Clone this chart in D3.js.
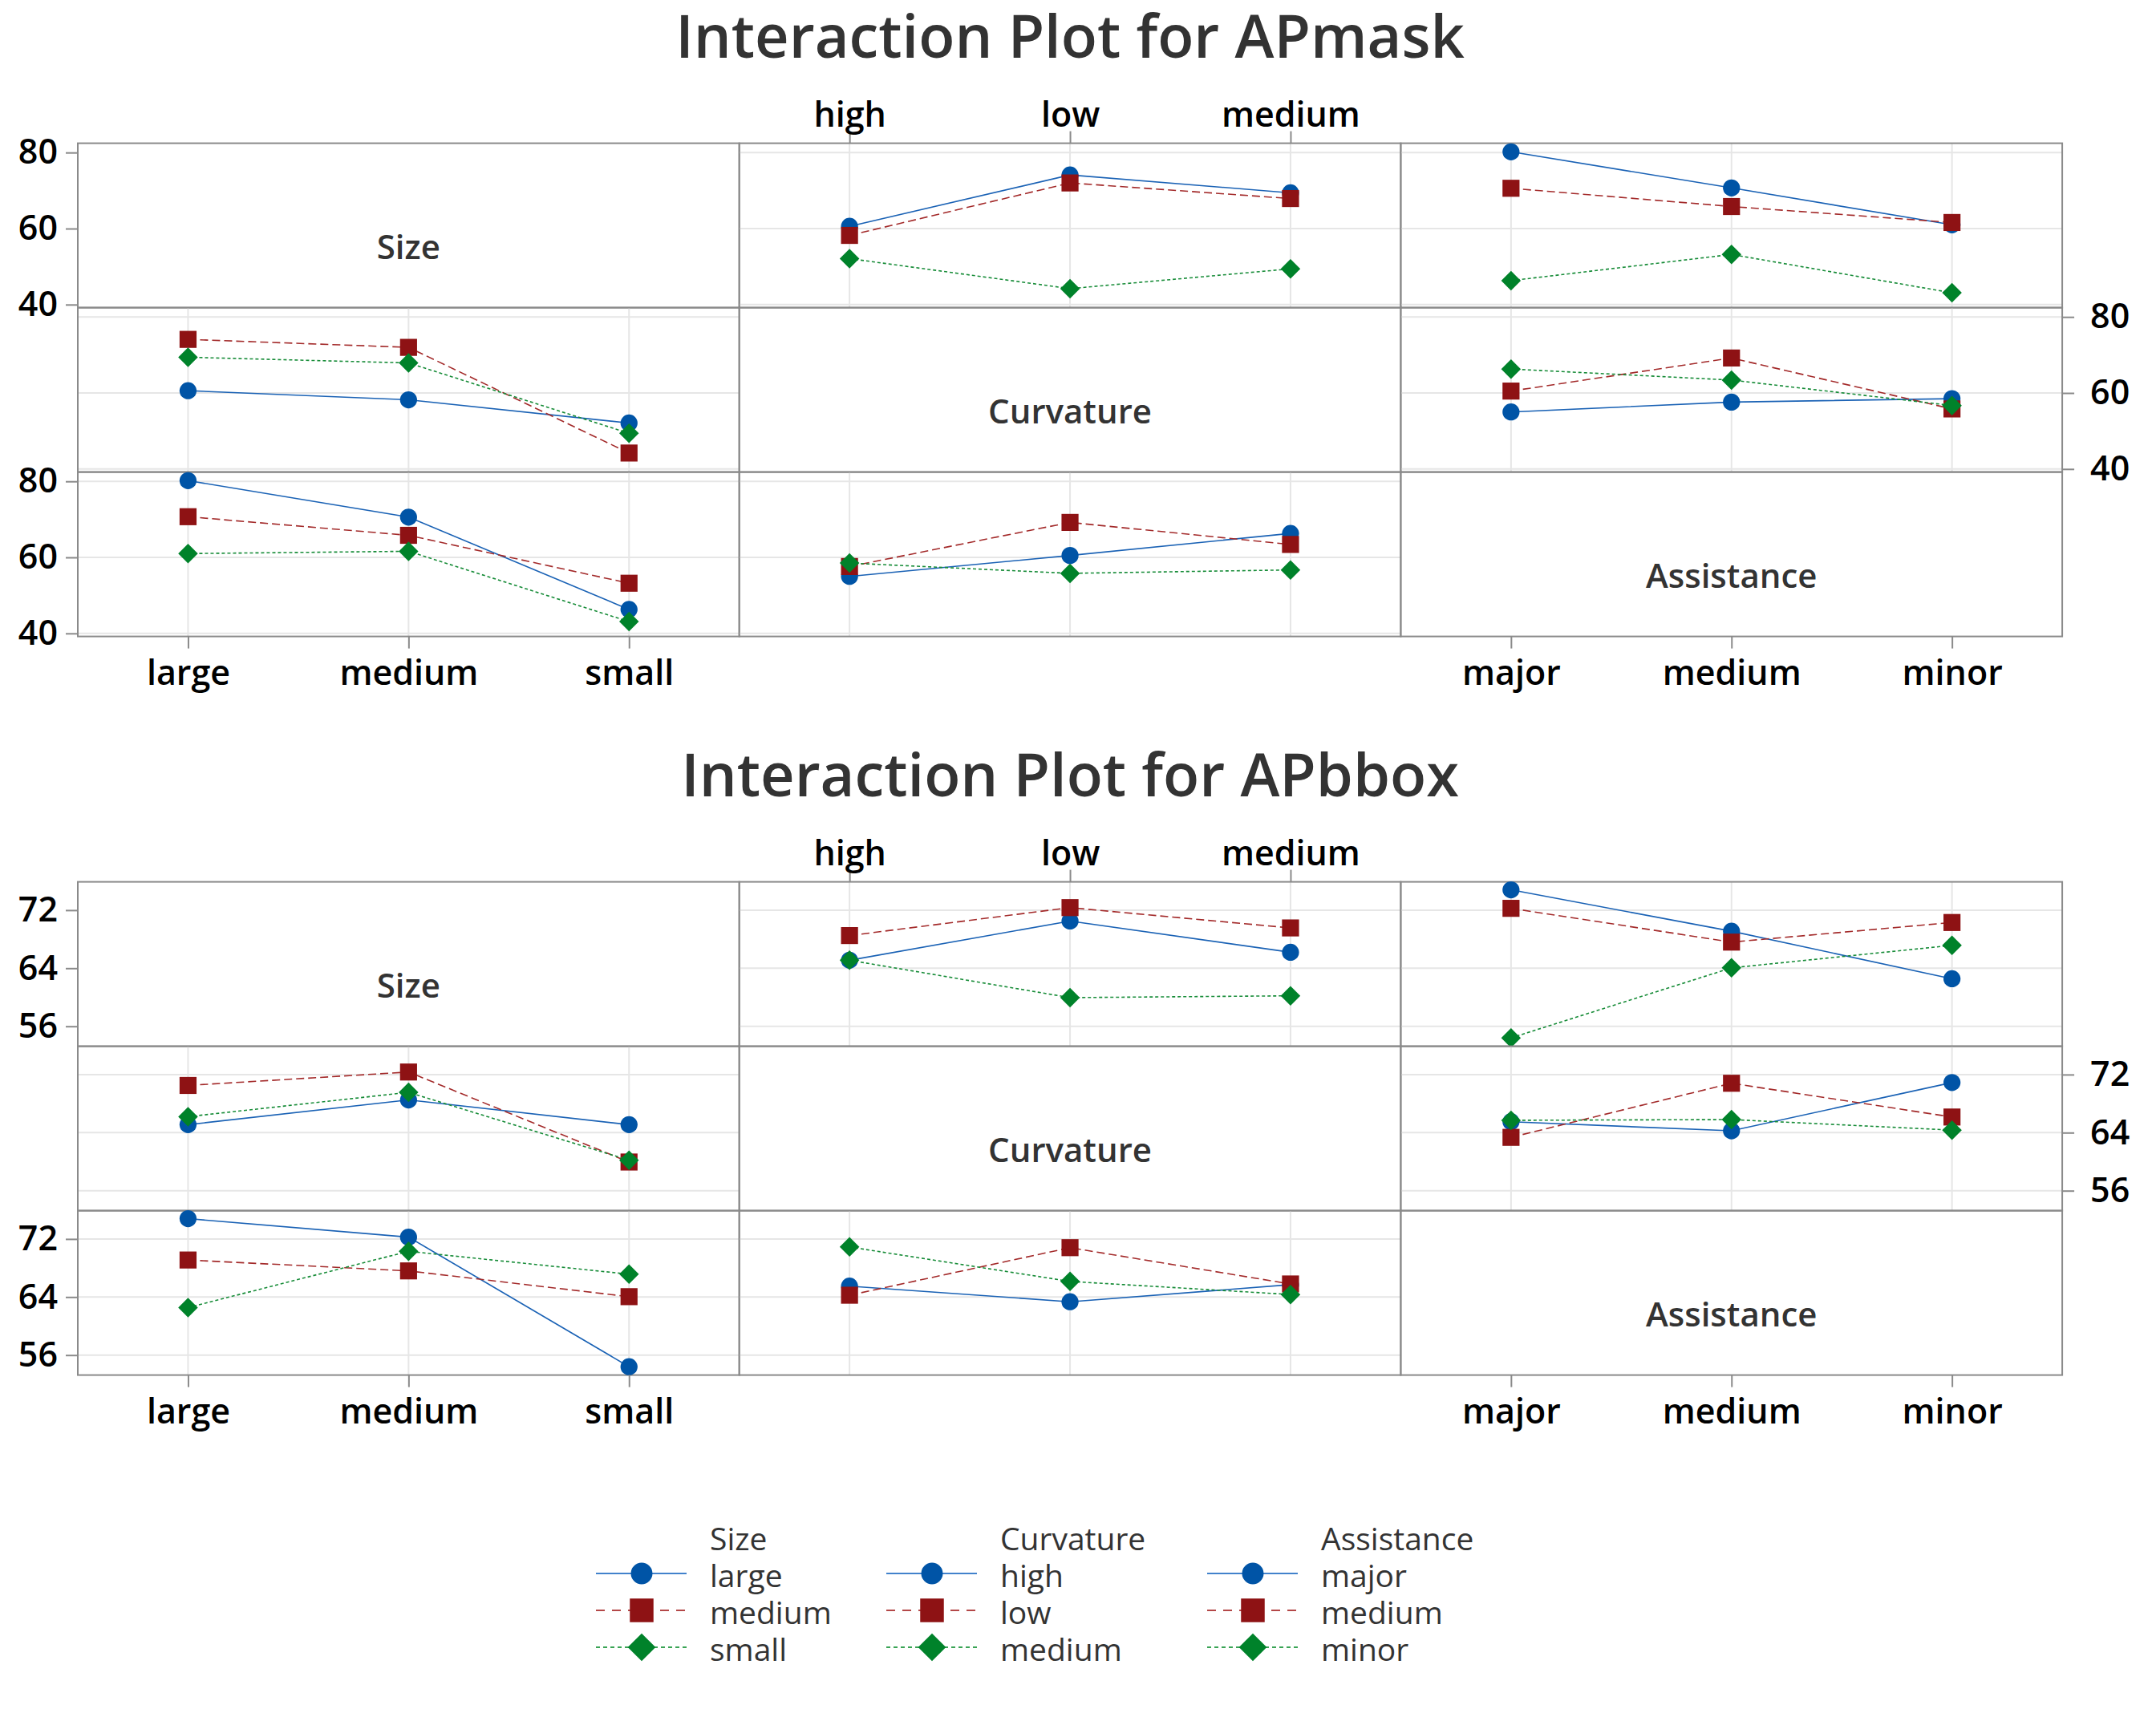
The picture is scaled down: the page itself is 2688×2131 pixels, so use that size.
<!DOCTYPE html>
<html>
<head>
<meta charset="utf-8">
<script src="https://cdnjs.cloudflare.com/ajax/libs/d3/7.8.5/d3.min.js"></script>
<style>
  body { margin: 0; background: #fff; }
  svg { display: block; }
  text { font-family: "Open Sans", "Noto Sans", sans-serif; }
</style>
</head>
<body>
<svg id="chart" width="2688" height="2131"></svg>
<script>
(function () {
  "use strict";

  const factors = ["Size", "Curvature", "Assistance"];
  const sizeLevels = ["large", "medium", "small"];
  const curvLevels = ["high", "low", "medium"];
  const assistLevels = ["major", "medium", "minor"];

  // two-way means, rows = first factor levels, cols = second factor levels
  const maskSizeCurv = [
    [60.6, 74.1, 69.4],
    [58.2, 72.0, 67.9],
    [52.1, 44.2, 49.4]
  ];
  const maskSizeAssist = [
    [80.2, 70.7, 61.0],
    [70.6, 65.8, 61.6],
    [46.3, 53.2, 43.1]
  ];
  const maskCurvAssist = [
    [55.0, 57.6, 58.5],
    [60.5, 69.2, 55.8],
    [66.3, 63.4, 56.7]
  ];

  const bboxSizeCurv = [
    [65.1, 70.5, 66.2],
    [68.5, 72.35, 69.55],
    [65.1, 59.95, 60.2]
  ];
  const bboxSizeAssist = [
    [74.8, 69.1, 62.55],
    [72.25, 67.6, 70.3],
    [54.4, 64.05, 67.15]
  ];
  const bboxCurvAssist = [
    [65.5, 64.25, 70.9],
    [63.35, 70.8, 66.15],
    [65.7, 65.8, 64.35]
  ];

  const maskTicks = [40, 60, 80];
  const maskDomain = [39.2, 82.45];
  const bboxTicks = [56, 64, 72];
  const bboxDomain = [53.25, 75.9];

  const levels = [sizeLevels, curvLevels, assistLevels];

  let diamond = {
    draw(ctx, size) {
      let r = Math.sqrt(size / 2)
      ctx.moveTo(0, -r)
      ctx.lineTo(r, 0)
      ctx.lineTo(0, r)
      ctx.lineTo(-r, 0)
      ctx.closePath()
    }
  }

  const styles = [
    { fill: "#0054a6", line: "#1a62b5", legLine: "#4282cc", dash: null, legDash: null, sym: d3.symbolCircle, size: 355, legSize: 570 },
    { fill: "#8e1214", line: "#a32a2a", legLine: "#b44848", dash: "10,5", legDash: "11,9", sym: d3.symbolSquare, size: 450, legSize: 870 },
    { fill: "#00822a", line: "#178c38", legLine: "#3aa455", dash: "4,3", legDash: "5,4", sym: diamond, size: 300, legSize: 600 }
  ];

  let svg = d3.select("#chart")
  svg.append("rect").attr("width", 2688).attr("height", 2131).attr("fill", "#fff")

  const left = 97
  const colW = 824.7
  const rowH = 205

  function cellValue(tables, r, c, t, x) {
    if (r < c) return tables[r + "" + c][t][x]
    return tables[c + "" + r][x][t]
  }

  function styleAxis(g, anchor) {
    g.select(".domain").remove()
    g.selectAll(".tick line").attr("stroke", "#8a8a8a").attr("stroke-width", 2)
    g.selectAll(".tick text")
      .attr("fill", "#000")
      .style("font-size", "43px")
      .style("font-weight", 600)
    if (anchor) g.selectAll(".tick text").attr("text-anchor", anchor)
  }

  function drawMatrix(top, title, tables, domain, ticks) {
    let g = svg.append("g")

    g.append("text")
      .attr("x", left + colW * 1.5)
      .attr("y", top - 107)
      .attr("text-anchor", "middle")
      .attr("fill", "#333")
      .style("font-size", "74px")
      .style("font-weight", 600)
      .text(title)

    for (let r = 0; r < 3; r++) {
      for (let c = 0; c < 3; c++) {
        let x0 = left + c * colW
        let y0 = top + r * rowH
        let x = d3.scalePoint().domain(levels[c]).range([x0, x0 + colW]).padding(0.5)
        let y = d3.scaleLinear().domain(domain).range([y0 + rowH, y0])
        let cell = g.append("g")

        if (r === c) {
          cell.append("rect")
            .attr("x", x0).attr("y", y0).attr("width", colW).attr("height", rowH)
            .attr("fill", "none").attr("stroke", "#8a8a8a").attr("stroke-width", 2)
          cell.append("text")
            .attr("x", x0 + colW / 2)
            .attr("y", y0 + rowH / 2 + 42)
            .attr("text-anchor", "middle")
            .attr("fill", "#333")
            .style("font-size", "42px")
            .style("font-weight", 600)
            .text(factors[r])
        } else {
          // grid
          cell.selectAll(".vg").data(levels[c]).join("line")
            .attr("x1", d => x(d)).attr("x2", d => x(d))
            .attr("y1", y0).attr("y2", y0 + rowH)
            .attr("stroke", "#e6e6e6").attr("stroke-width", 2)
          cell.selectAll(".hg").data(ticks).join("line")
            .attr("x1", x0).attr("x2", x0 + colW)
            .attr("y1", d => y(d)).attr("y2", d => y(d))
            .attr("stroke", "#e6e6e6").attr("stroke-width", 2)
          cell.append("rect")
            .attr("x", x0).attr("y", y0).attr("width", colW).attr("height", rowH)
            .attr("fill", "none").attr("stroke", "#8a8a8a").attr("stroke-width", 2)

          let line = d3.line().x(d => x(d.x)).y(d => y(d.v))
          levels[r].forEach(function (lev, t) {
            let st = styles[t]
            let pts = levels[c].map((xl, xi) => ({ x: xl, v: cellValue(tables, r, c, t, xi) }))
            cell.append("path")
              .attr("d", line(pts))
              .attr("fill", "none")
              .attr("stroke", st.line)
              .attr("stroke-width", 1.6)
              .attr("stroke-dasharray", st.dash)
            cell.selectAll(".m" + t).data(pts).join("path")
              .attr("transform", d => "translate(" + x(d.x) + "," + y(d.v) + ")")
              .attr("d", d3.symbol(st.sym, st.size))
              .attr("fill", st.fill)
          })
        }

        // axes
        if (c === 0 && r !== 1) {
          g.append("g").attr("transform", "translate(" + x0 + ",0)")
            .call(d3.axisLeft(y).tickValues(ticks).tickSize(15).tickPadding(10))
            .call(s => styleAxis(s))
        }
        if (c === 2 && r === 1) {
          g.append("g").attr("transform", "translate(" + (x0 + colW) + ",0)")
            .call(d3.axisRight(y).tickValues(ticks).tickSize(15).tickPadding(20))
            .call(s => styleAxis(s))
        }
        if (r === 0 && c === 1) {
          g.append("g").attr("transform", "translate(0," + y0 + ")")
            .call(d3.axisTop(x).tickSize(15).tickPadding(6))
            .call(s => styleAxis(s))
        }
        if (r === 2 && c !== 1) {
          g.append("g").attr("transform", "translate(0," + (y0 + rowH) + ")")
            .call(d3.axisBottom(x).tickSize(15).tickPadding(15))
            .call(s => styleAxis(s))
        }
      }
    }
  }

  drawMatrix(178.6, "Interaction Plot for APmask",
    { "01": maskSizeCurv, "02": maskSizeAssist, "12": maskCurvAssist }, maskDomain, maskTicks)
  drawMatrix(1099.6, "Interaction Plot for APbbox",
    { "01": bboxSizeCurv, "02": bboxSizeAssist, "12": bboxCurvAssist }, bboxDomain, bboxTicks)

  // legend
  const legTextX = [885, 1247, 1647]
  const legTop = 1933
  const legStep = 46
  let leg = svg.append("g")
  factors.forEach(function (f, i) {
    let tx = legTextX[i]
    leg.append("text")
      .attr("x", tx).attr("y", legTop)
      .attr("fill", "#333")
      .style("font-size", "39px")
      .text(f)
    levels[i].forEach(function (lev, t) {
      let st = styles[t]
      let base = legTop + legStep * (t + 1)
      let cy = base - 17
      leg.append("line")
        .attr("x1", tx - 142).attr("x2", tx - 29)
        .attr("y1", cy).attr("y2", cy)
        .attr("stroke", st.legLine).attr("stroke-width", 2.2)
        .attr("stroke-dasharray", st.legDash)
      leg.append("path")
        .attr("transform", "translate(" + (tx - 85) + "," + cy + ")")
        .attr("d", d3.symbol(st.sym, st.legSize))
        .attr("fill", st.fill)
      leg.append("text")
        .attr("x", tx).attr("y", base)
        .attr("fill", "#333")
        .style("font-size", "39px")
        .text(lev)
    })
  })
})();
</script>
</body>
</html>
